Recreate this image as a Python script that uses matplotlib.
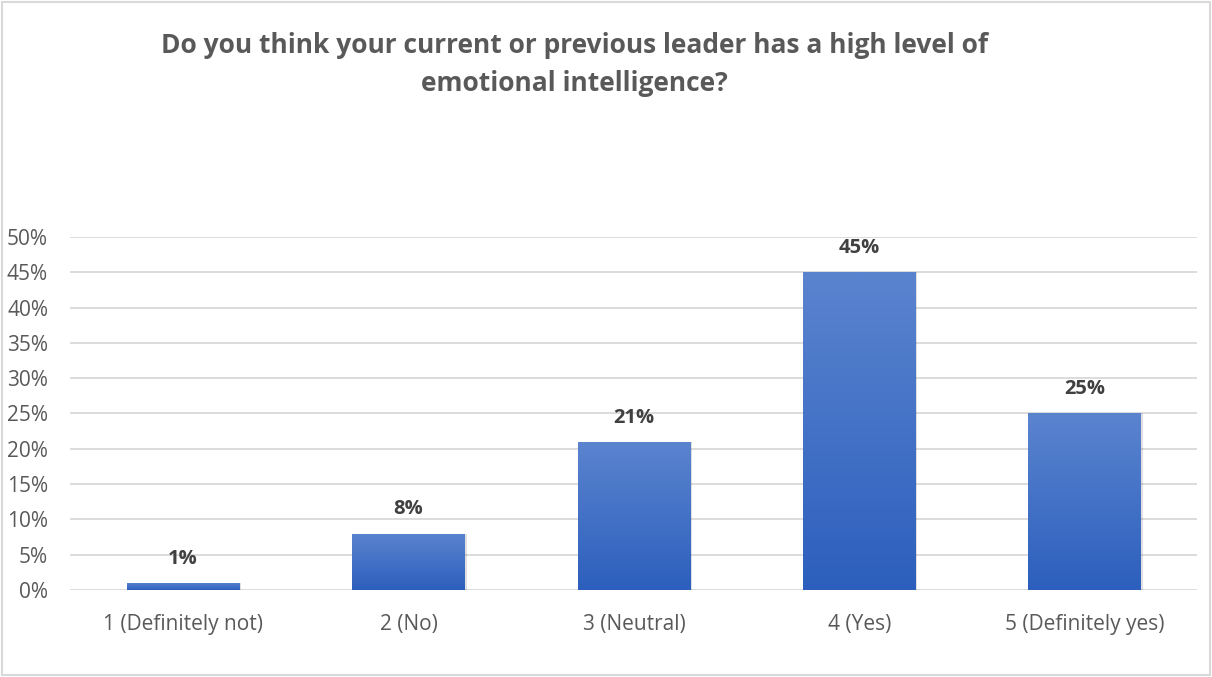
import matplotlib.pyplot as plt
import numpy as np
from matplotlib.colors import LinearSegmentedColormap
from matplotlib.patches import Rectangle

categories = ['1 (Definitely not)', '2 (No)', '3 (Neutral)', '4 (Yes)', '5 (Definitely yes)']
values = [0.01, 0.08, 0.21, 0.45, 0.25]
yticks = [0, 0.05, 0.10, 0.15, 0.20, 0.25, 0.30, 0.35, 0.40, 0.45, 0.50]

title = 'Do you think your current or previous leader has a high level of\nemotional intelligence?'

plt.rcParams['font.family'] = ['Open Sans', 'DejaVu Sans']

fig = plt.figure(figsize=(12.12, 6.77), dpi=100)
ax = fig.add_axes([0.058, 0.1285, 0.930, 0.5215])

x = np.arange(len(categories))
bars = ax.bar(x, values, width=0.5, color='#4472c4', zorder=3)

# vertical gradient inside each bar, lighter on top
cmap = LinearSegmentedColormap.from_list('grad', ['#2c5fbd', '#5b84cf'])
grad = np.linspace(0, 1, 256).reshape(-1, 1)
for b in bars:
    x0, w, h = b.get_x(), b.get_width(), b.get_height()
    # soft shadow
    sh = Rectangle((x0 + 0.008, 0), w, h, facecolor='#000000', alpha=0.12,
                   zorder=2, edgecolor='none')
    ax.add_patch(sh)
    im = ax.imshow(grad, cmap=cmap, aspect='auto', origin='lower',
                   extent=[x0, x0 + w, 0, h], zorder=3.5)
    im.set_clip_path(b)
    ax.text(x0 + w / 2, h + 0.02, f'{round(h * 100)}%', ha='center', va='bottom',
            fontsize=14.5, fontweight='bold', color='#404040', zorder=4)

ax.set_xlim(-0.5, len(categories) - 0.5)
ax.set_ylim(0, 0.5)
ax.set_yticks(yticks)
ax.set_yticklabels([f'{int(round(t * 100))}%' for t in yticks])
ax.set_xticks(x)
ax.set_xticklabels(categories)
ax.tick_params(axis='both', length=0, labelsize=15, labelcolor='#595959')
ax.tick_params(axis='x', pad=17)
ax.tick_params(axis='y', pad=16)
ax.grid(axis='y', color='#d9d9d9', linewidth=1.3, zorder=0)
for s in ax.spines.values():
    s.set_visible(False)

fig.text(0.474, 0.952, title, ha='center', va='top', fontsize=19,
         fontweight='bold', color='#595959', linespacing=1.48)

# light frame around the whole chart
fig.patches.append(Rectangle((0.002, 0.003), 0.996, 0.994, transform=fig.transFigure,
                             fill=False, edgecolor='#d9d9d9', linewidth=1.5))

fig.savefig('out.png', dpi=100)
